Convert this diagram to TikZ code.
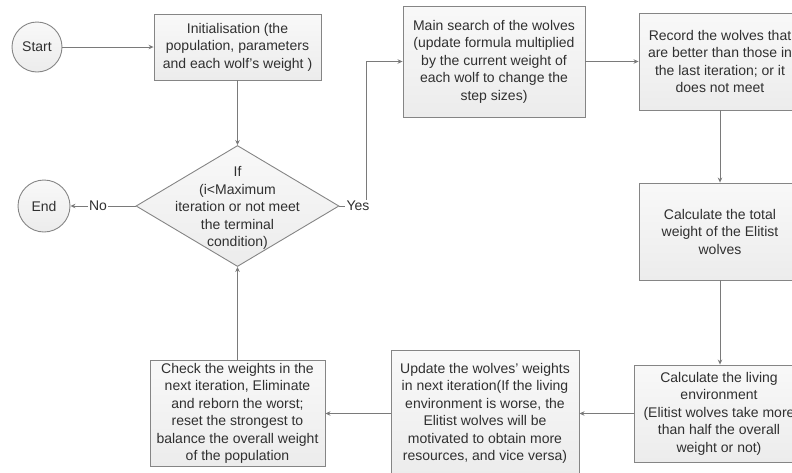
\documentclass[tikz,border=0pt]{standalone}
\usepackage{fontspec}
\setmainfont{Liberation Sans}
\usetikzlibrary{shapes.geometric,arrows.meta}
\definecolor{bordc}{HTML}{858585}
\definecolor{linec}{HTML}{7A7A7A}
\definecolor{txtc}{HTML}{303030}
\begin{document}
\begin{tikzpicture}[x=1pt,y=-1pt,
  every node/.style={font=\fontsize{14pt}{17.5pt}\selectfont, text=txtc},
  shadefill/.style={top color=gray!5, bottom color=gray!15},
  box/.style={rectangle, draw=bordc, line width=0.9pt, shadefill, align=center, inner sep=0pt},
  term/.style={circle, draw=bordc, line width=0.9pt, shadefill, inner sep=0pt, minimum size=50pt},
  decision/.style={diamond, draw=bordc, line width=0.9pt, shadefill, inner sep=0pt, minimum width=203pt, minimum height=121pt},
  conn/.style={draw=linec, line width=0.9pt},
  arr/.style={conn, -{Stealth[length=5pt,width=4.5pt]}},
  lab/.style={inner sep=1pt}
]
\useasboundingbox (0,0) rectangle (792,472);
\clip (0,0) rectangle (792,472);

\node[term] (start) at (37,47) {Start};
\node[box, minimum width=167pt, minimum height=66pt] (init) at (237.5,47)
  {Initialisation (the\\population, parameters\\and each wolf's weight )};
\node[decision] (dia) at (237.5,206) {};
\node[align=center] (diatxt) at (237.5,208)
  {If\\(i<Maximum\\iteration or not meet\\the terminal\\condition)};
\node[term, minimum size=52pt] (end) at (44,206) {End};
\node[lab] (no) at (98,206) {No};
\node[lab] (yes) at (358,206) {Yes};

\node[box, minimum width=182pt, minimum height=111pt] (main) at (494,61.5)
  {Main search of the wolves\\(update formula multiplied\\by the current weight of\\each wolf to change the\\step sizes)};
\node[box, minimum width=162pt, minimum height=97pt] (record) at (720,61.5)
  {Record the wolves that\\are better than those in\\the last iteration; or it\\does not meet};
\node[box, minimum width=162pt, minimum height=97pt] (total) at (720,231.5)
  {Calculate the total\\weight of the Elitist\\wolves};
\node[box, minimum width=170pt, minimum height=97pt] (living) at (719,413.5)
  {Calculate the living\\environment\\(Elitist wolves take more\\than half the overall\\weight or not)};
\node[box, minimum width=188pt, minimum height=126pt] (update) at (485,413.5)
  {Update the wolves' weights\\in next iteration(If the living\\environment is worse, the\\Elitist wolves will be\\motivated to obtain more\\resources, and vice versa)};
\node[box, minimum width=175pt, minimum height=106pt] (check) at (237.5,413.5)
  {Check the weights in the\\next iteration, Eliminate\\and reborn the worst;\\reset the strongest to\\balance the overall weight\\of the population};

\draw[arr] (start) -- (init);
\draw[arr] (init) -- (dia);
\draw[conn] (dia) -- (no);
\draw[arr] (no) -- (end);
\draw[conn] (dia) -- (yes);
\draw[arr] ([xshift=-4pt]yes.north east) |- (main);
\draw[arr] (main) -- (record);
\draw[arr] (record) -- (total);
\draw[arr] (total.south) -- (total.south |- living.north);
\draw[arr] (living) -- (update);
\draw[arr] (update) -- (check);
\draw[arr] (check) -- (dia);
\end{tikzpicture}
\end{document}
